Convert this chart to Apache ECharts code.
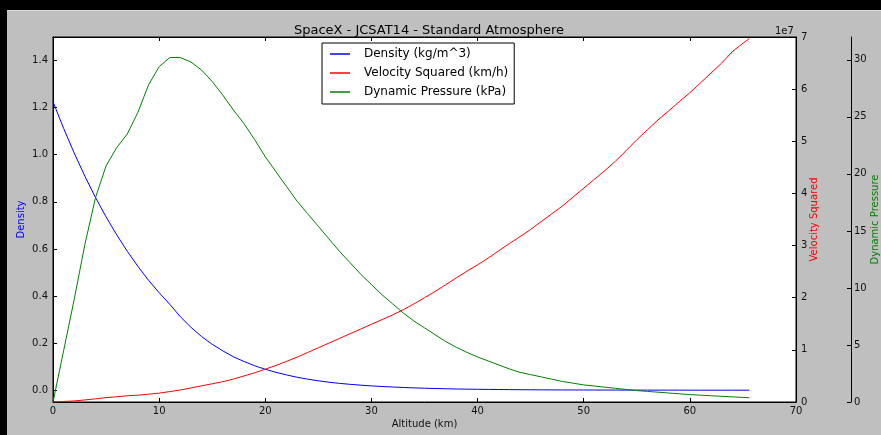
<!DOCTYPE html>
<html>
<head>
<meta charset="utf-8">
<script src="https://cdn.jsdelivr.net/npm/echarts@6/dist/echarts.min.js"></script>
<style>
html,body{margin:0;padding:0;background:#000;}
#chart{width:881px;height:435px;}
</style>
</head>
<body>
<div id="chart"></div>
<script>
// Altitude (km)
const altitude = [0,1,2,3,4,5,6,7,8,9,10,11,12,13,14,15,16,17,18,19,20,21,22,23,24,25,26,27,28,29,30,31,32,33,34,35,36,37,38,39,40,41,42,43,44,45,46,47,48,49,50,51,52,53,54,55,56,57,58,59,60,61,62,63,64,65,65.6];
// Density (kg/m^3)
const density = [1.225,1.112,1.007,0.909,0.819,0.736,0.660,0.590,0.526,0.467,0.414,0.365,0.312,0.267,0.228,0.195,0.167,0.142,0.122,0.104,0.089,0.076,0.065,0.055,0.047,0.040,0.034,0.029,0.025,0.0215,0.0184,0.0158,0.0136,0.0116,0.0099,0.0085,0.0073,0.0062,0.0053,0.0046,0.0040,0.0035,0.0030,0.0026,0.0022,0.0019,0.0016,0.0014,0.0012,0.0011,0.0010,0.0009,0.0008,0.0007,0.0006,0.00054,0.00048,0.00042,0.00037,0.00033,0.00029,0.00025,0.00022,0.0002,0.00017,0.00015,0.00014];
// Velocity squared (x 1e7)
const velocitySq = [0,0.01,0.02,0.04,0.06,0.085,0.10,0.12,0.13,0.15,0.17,0.20,0.23,0.27,0.31,0.35,0.39,0.44,0.50,0.56,0.63,0.70,0.78,0.86,0.95,1.04,1.13,1.22,1.31,1.40,1.49,1.58,1.67,1.77,1.88,2.00,2.12,2.25,2.38,2.51,2.63,2.76,2.90,3.04,3.17,3.31,3.46,3.61,3.76,3.93,4.10,4.27,4.44,4.62,4.82,5.03,5.22,5.41,5.58,5.76,5.93,6.12,6.31,6.50,6.72,6.88,6.97];
// Dynamic pressure (kPa)
const dynPressure = [0,4.5,9.0,13.8,17.9,20.7,22.3,23.5,25.4,27.8,29.4,30.2,30.2,29.8,29.1,28.1,26.9,25.6,24.4,23.0,21.5,20.2,18.9,17.6,16.5,15.4,14.3,13.2,12.2,11.2,10.3,9.4,8.6,7.8,7.1,6.5,5.9,5.3,4.8,4.35,3.95,3.6,3.25,2.9,2.6,2.4,2.2,2.0,1.8,1.65,1.5,1.4,1.3,1.2,1.1,1.0,0.93,0.86,0.79,0.72,0.65,0.6,0.55,0.5,0.45,0.4,0.37];

const densityTicks = [0,0.2,0.4,0.6,0.8,1.0,1.2,1.4];
const pressureTicks = [0,5,10,15,20,25,30];
const seriesNames = ['Density (kg/m^3)','Velocity Squared (km/h)','Dynamic Pressure (kPa)'];

const FONT = 'DejaVu Sans';
const pair = (ys) => altitude.map((x, i) => [x, ys[i]]);
const tickStyle = {inside: true, length: 4, lineStyle: {color: '#000', width: 1}};
const lblStyle = {fontFamily: FONT, fontSize: 10, color: '#111'};

const chart = echarts.init(document.getElementById('chart'));
chart.setOption({
  animation: false,
  backgroundColor: '#bfbfbf',
  textStyle: {fontFamily: FONT},
  title: {
    text: 'SpaceX - JCSAT14 - Standard Atmosphere',
    left: 424, textAlign: 'center', top: 19,
    textStyle: {fontFamily: FONT, fontSize: 13, fontWeight: 'normal', color: '#000'}
  },
  graphic: [
    {type: 'rect', shape: {x: 0, y: 0, width: 881, height: 10}, style: {fill: '#000'}},
    {type: 'rect', shape: {x: 0, y: 0, width: 7, height: 435}, style: {fill: '#000'}},
    {type: 'rect', shape: {x: 7, y: 10, width: 874, height: 1}, style: {fill: '#dedede'}},
    {type: 'text', left: 775, top: 26, style: {text: '1e7', fontFamily: FONT, fontSize: 10, fill: '#111'}}
  ],
  legend: {
    orient: 'vertical', left: 322, top: 43,
    backgroundColor: '#fff', borderColor: '#000', borderWidth: 1, borderRadius: 0,
    padding: [4, 6, 5, 8], itemGap: 5, itemWidth: 20, itemHeight: 1.5, icon: 'rect',
    textStyle: {fontFamily: FONT, fontSize: 12, color: '#000', lineHeight: 14, padding: [0, 0, 0, 9]},
    data: seriesNames
  },
  grid: {left: 53, top: 37, width: 743, height: 365, show: true, backgroundColor: '#fff', borderColor: '#000', borderWidth: 1, containLabel: false, outerBoundsMode: 'none'},
  xAxis: [
    {type: 'value', min: 0, max: 70, interval: 10, position: 'bottom',
     axisLine: {show: true, onZero: false, lineStyle: {color: '#000'}}, axisTick: tickStyle,
     axisLabel: Object.assign({margin: 4}, lblStyle), splitLine: {show: false},
     name: 'Altitude (km)', nameLocation: 'middle', nameGap: 17, nameMoveOverlap: false,
     nameTextStyle: {fontFamily: FONT, fontSize: 10, color: '#111'}},
    {type: 'value', min: 0, max: 70, interval: 10, position: 'top',
     axisLine: {show: true, onZero: false, lineStyle: {color: '#000'}}, axisTick: tickStyle,
     axisLabel: {show: false}, splitLine: {show: false}}
  ],
  yAxis: [
    {type: 'value', min: -0.05, max: 1.5, position: 'left',
     axisLine: {show: true, onZero: false, lineStyle: {color: '#000'}},
     axisTick: Object.assign({customValues: densityTicks}, tickStyle),
     axisLabel: Object.assign({margin: 5, customValues: densityTicks, formatter: v => v.toFixed(1)}, lblStyle),
     splitLine: {show: false},
     name: 'Density', nameLocation: 'middle', nameRotate: 90, nameGap: 27, nameMoveOverlap: false,
     nameTextStyle: {fontFamily: FONT, fontSize: 10, color: '#0000ff'}},
    {type: 'value', min: 0, max: 7, interval: 1, position: 'right',
     axisLine: {show: true, onZero: false, lineStyle: {color: '#000'}}, axisTick: tickStyle,
     axisLabel: Object.assign({margin: 5}, lblStyle), splitLine: {show: false},
     name: 'Velocity Squared', nameLocation: 'middle', nameRotate: 90, nameGap: 13, nameMoveOverlap: false,
     nameTextStyle: {fontFamily: FONT, fontSize: 10, color: '#ff0000'}},
    {type: 'value', min: 0, max: 32, position: 'right', offset: 55,
     axisLine: {show: true, onZero: false, lineStyle: {color: '#000'}},
     axisTick: Object.assign({customValues: pressureTicks}, tickStyle),
     axisLabel: Object.assign({margin: 3, customValues: pressureTicks}, lblStyle),
     splitLine: {show: false},
     name: 'Dynamic Pressure', nameLocation: 'middle', nameRotate: 90, nameGap: 19, nameMoveOverlap: false,
     nameTextStyle: {fontFamily: FONT, fontSize: 10, color: '#008000'}}
  ],
  series: [
    {name: seriesNames[0], type: 'line', xAxisIndex: 0, yAxisIndex: 0, data: pair(density), symbol: 'none',
     lineStyle: {color: '#0000ff', width: 1}, itemStyle: {color: '#0000ff'}},
    {name: seriesNames[1], type: 'line', xAxisIndex: 0, yAxisIndex: 1, data: pair(velocitySq), symbol: 'none',
     lineStyle: {color: '#ff0000', width: 1}, itemStyle: {color: '#ff0000'}},
    {name: seriesNames[2], type: 'line', xAxisIndex: 0, yAxisIndex: 2, data: pair(dynPressure), symbol: 'none',
     lineStyle: {color: '#008000', width: 1}, itemStyle: {color: '#008000'}}
  ]
});
</script>
</body>
</html>
